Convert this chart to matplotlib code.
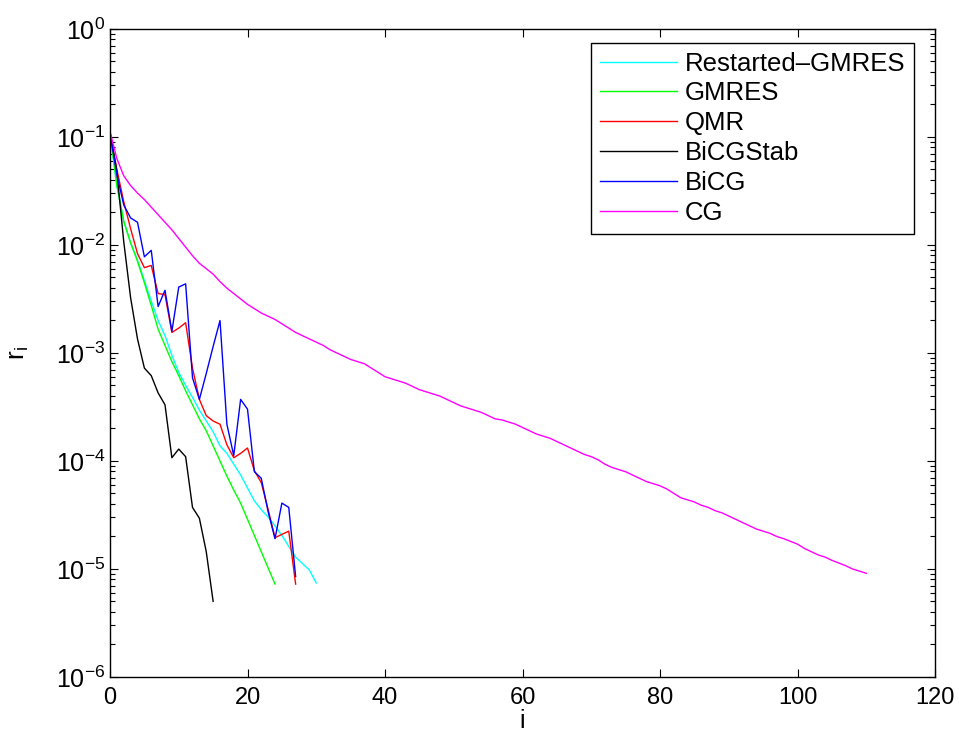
import numpy as np
import matplotlib
matplotlib.use('Agg')
import matplotlib.pyplot as plt

# residual history, stored as log10(r_i)
restarted_gmres = [-0.96, -1.45, -1.78, -1.98, -2.14, -2.33, -2.52, -2.70, -2.84, -3.02,
                   -3.18, -3.30, -3.41, -3.53, -3.63, -3.73, -3.86, -3.93, -4.03, -4.13,
                   -4.25, -4.37, -4.45, -4.52, -4.60, -4.69, -4.79, -4.89, -4.95, -5.01,
                   -5.13]
gmres = [-0.96, -1.45, -1.78, -1.98, -2.15, -2.35, -2.56, -2.78, -2.93, -3.08,
         -3.21, -3.35, -3.48, -3.61, -3.72, -3.86, -4.00, -4.14, -4.27, -4.39,
         -4.54, -4.69, -4.84, -4.99, -5.14]
qmr = [-0.96, -1.30, -1.60, -1.85, -2.08, -2.21, -2.19, -2.45, -2.46, -2.81,
       -2.77, -2.72, -3.14, -3.43, -3.58, -3.63, -3.66, -3.85, -3.97, -3.93,
       -3.88, -4.09, -4.20, -4.45, -4.71, -4.68, -4.65, -5.14]
bicgstab = [-0.96, -1.32, -1.97, -2.49, -2.87, -3.14, -3.21, -3.37, -3.48, -3.97,
            -3.89, -3.96, -4.43, -4.53, -4.84, -5.30]
bicg = [-0.96, -1.35, -1.63, -1.75, -1.79, -2.11, -2.05, -2.57, -2.42, -2.80,
        -2.39, -2.36, -3.23, -3.43, -3.19, -2.94, -2.70, -3.66, -3.95, -3.43,
        -3.52, -4.10, -4.16, -4.47, -4.72, -4.39, -4.43, -5.07]
cg = [-0.95, -1.20, -1.36, -1.45, -1.52, -1.58, -1.65, -1.72, -1.79, -1.86,
      -1.94, -2.02, -2.10, -2.17, -2.22, -2.27, -2.34, -2.40, -2.45, -2.50,
      -2.55, -2.59, -2.63, -2.66, -2.69, -2.73, -2.77, -2.81, -2.84, -2.87,
      -2.90, -2.93, -2.97, -3.00, -3.03, -3.06, -3.08, -3.10, -3.14, -3.18,
      -3.22, -3.24, -3.26, -3.28, -3.31, -3.34, -3.36, -3.38, -3.40, -3.43,
      -3.46, -3.49, -3.51, -3.53, -3.55, -3.58, -3.61, -3.62, -3.64, -3.66,
      -3.69, -3.72, -3.75, -3.77, -3.79, -3.82, -3.85, -3.88, -3.91, -3.94,
      -3.96, -3.99, -4.03, -4.06, -4.08, -4.10, -4.13, -4.16, -4.19, -4.21,
      -4.23, -4.26, -4.30, -4.34, -4.36, -4.38, -4.41, -4.43, -4.46, -4.48,
      -4.51, -4.54, -4.57, -4.60, -4.63, -4.65, -4.67, -4.70, -4.72, -4.745,
      -4.77, -4.81, -4.84, -4.87, -4.89, -4.92, -4.945, -4.97, -5.00, -5.02,
      -5.04]

labels = ['Restarted–GMRES', 'GMRES', 'QMR', 'BiCGStab', 'BiCG', 'CG']
series = [restarted_gmres, gmres, qmr, bicgstab, bicg, cg]
colors = ['#00ffff', '#00ff00', '#ff0000', '#000000', '#0000ff', '#ff00ff']

plt.rcParams['font.family'] = ['Liberation Sans', 'DejaVu Sans']
plt.rcParams['mathtext.fontset'] = 'custom'
plt.rcParams['mathtext.rm'] = 'Liberation Sans'
plt.rcParams['mathtext.default'] = 'regular'

fig = plt.figure(figsize=(9.59, 7.44), dpi=100)
ax = fig.add_axes([0.1147, 0.0901, 0.8603, 0.871])

for vals, lab, col in zip(series, labels, colors):
    it = np.arange(len(vals))
    ax.semilogy(it, 10.0 ** np.array(vals), color=col, lw=1.0, label=lab)

ax.set_xlim(0, 120)
ax.set_ylim(1e-6, 1)
ax.set_xticks(np.arange(0, 121, 20))
ax.tick_params(which='both', direction='in', top=True, right=True, labelsize=17)
ax.tick_params(axis='y', labelsize=18)
ax.tick_params(which='major', length=6, width=0.8)
ax.tick_params(which='minor', length=3.5, width=0.8)
ax.tick_params(axis='x', pad=7)
for s in ax.spines.values():
    s.set_linewidth(1.0)

ax.set_xlabel('i', fontsize=18, labelpad=0)
ax.set_ylabel('r$_i$', fontsize=19, labelpad=18)

leg = ax.legend(loc='upper right', bbox_to_anchor=(0.9745, 0.979), borderaxespad=0,
                fontsize=18.5, handlelength=3.0, handletextpad=0.3, labelspacing=0.23,
                borderpad=0.35, fancybox=False, framealpha=1, edgecolor='black')
leg.get_frame().set_linewidth(1.0)

fig.savefig('out.png', dpi=100)
